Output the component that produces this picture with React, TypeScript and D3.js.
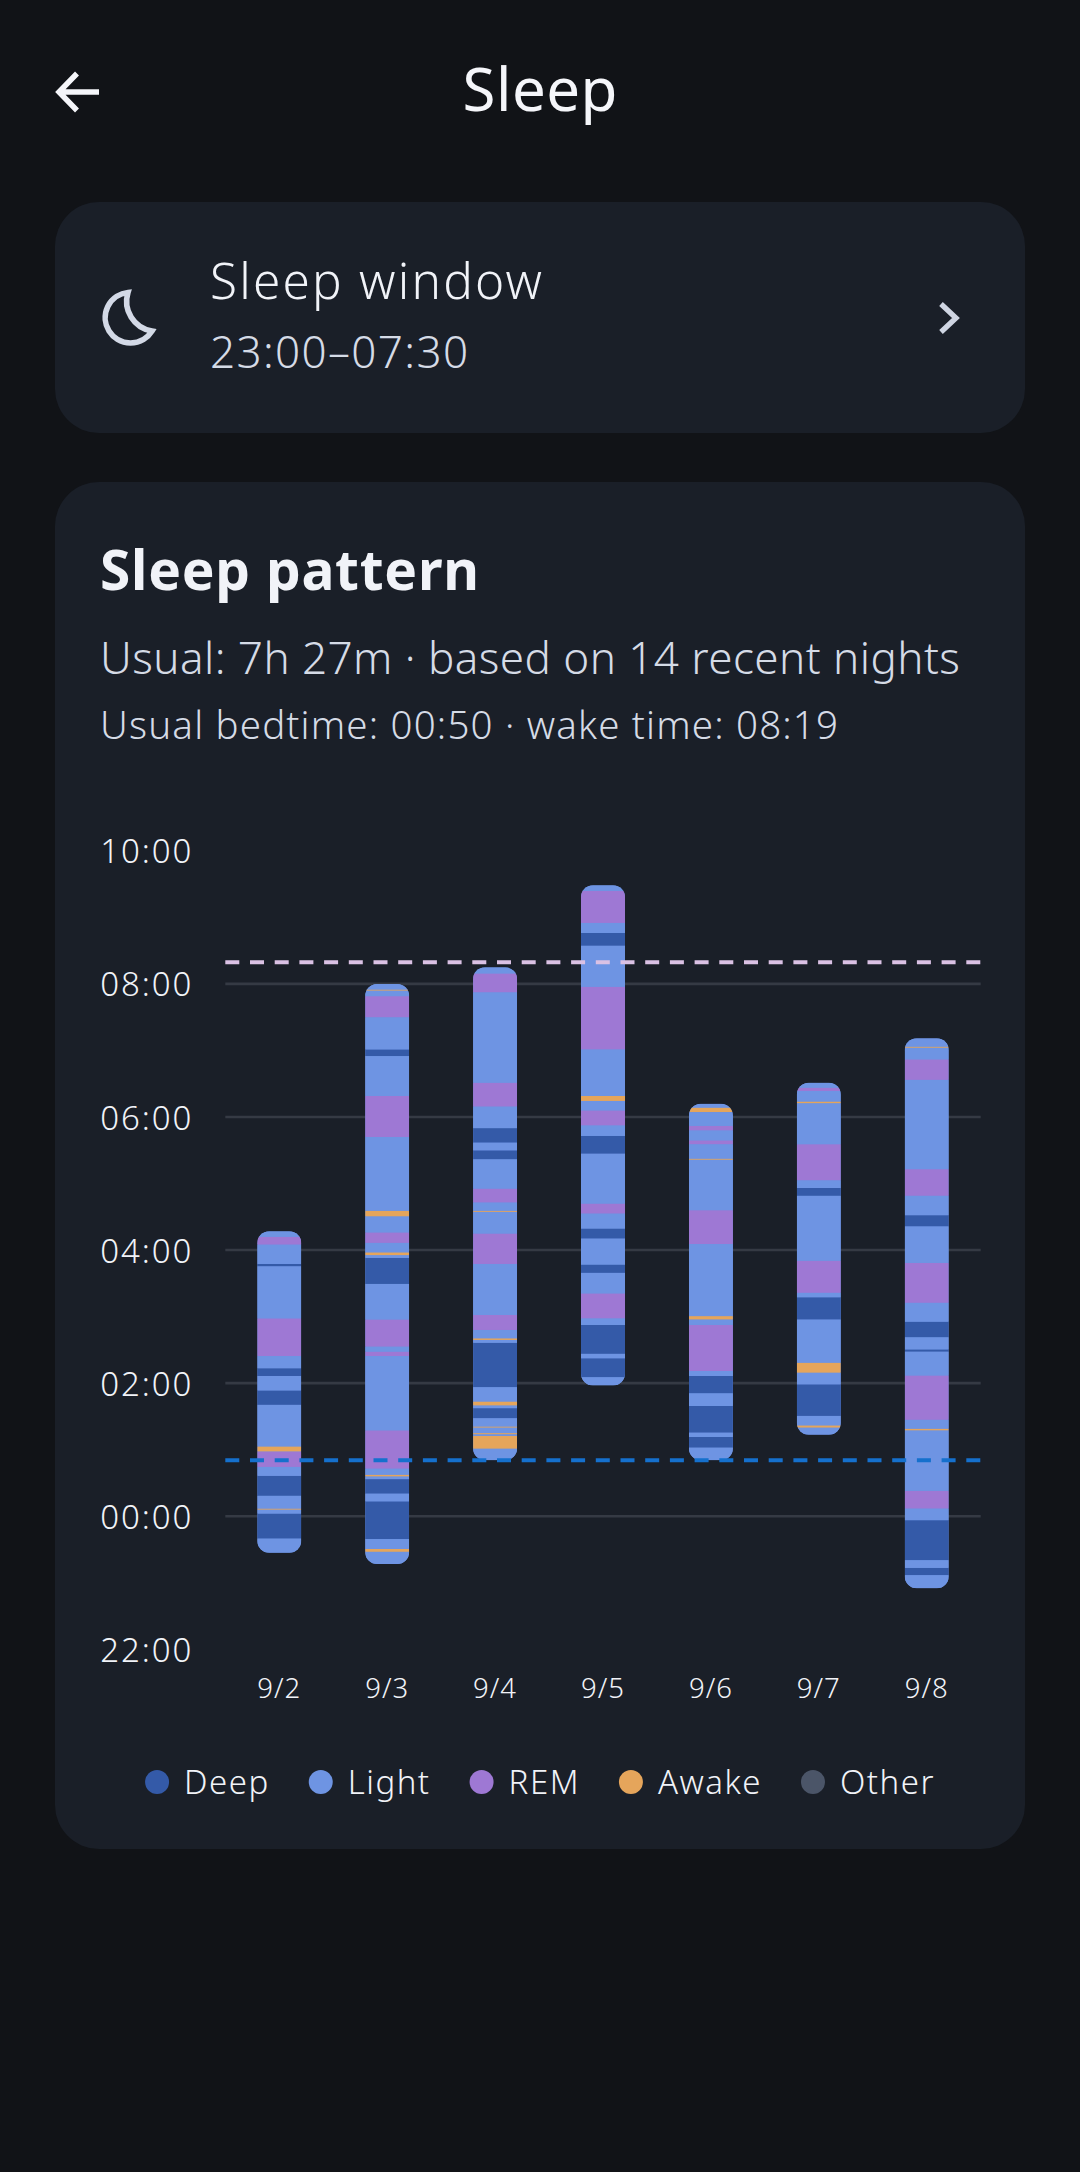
import * as d3 from "d3";
import { useEffect, useRef } from "react";

type Stage = "D" | "L" | "R" | "A" | "O";
type Segment = [Stage, number];

const stageKeys: Stage[] = ["D", "L", "R", "A", "O"];
const stageNames = ["Deep", "Light", "REM", "Awake", "Other"];
const stageColors = ["#345aa8", "#6e94e3", "#9e78d4", "#e5a55b", "#4b5568"];

const dates = ["9/2", "9/3", "9/4", "9/5", "9/6", "9/7", "9/8"];
const yTicks = [-120, 0, 120, 240, 360, 480, 600];

// minutes after midnight: when each night begins, then [stage, minute it ends]
const nightStarts = [-33.5, -43.5, 50, 117.5, 50, 73, -65.5];

const night1: Segment[] = [
  ["L", -20.5], ["D", 2], ["L", 5.5], ["A", 6.5], ["L", 18], ["D", 36], ["L", 44], ["R", 58],
  ["A", 62.5], ["L", 100], ["D", 113], ["L", 126], ["D", 133], ["L", 144], ["R", 178],
  ["L", 225], ["D", 227], ["L", 244.5], ["R", 251.5], ["L", 256.5],
];
const night2: Segment[] = [
  ["L", -32.5], ["A", -30], ["L", -21], ["D", 13], ["L", 20], ["D", 33], ["L", 35.5], ["A", 37],
  ["L", 42.5], ["R", 77], ["L", 144], ["R", 148], ["L", 152.5], ["R", 177], ["L", 209], ["D", 232.5],
  ["L", 235], ["A", 237.5], ["L", 246], ["R", 255.5], ["L", 270], ["A", 275], ["L", 341.5], ["R", 378.5],
  ["L", 414.5], ["D", 420.5], ["L", 449.5], ["R", 468.5], ["L", 473.5], ["A", 474.5], ["L", 479.5],
];
const night3: Segment[] = [
  ["L", 60.5], ["A", 72], ["L", 73.5], ["A", 74.5], ["L", 79.5], ["A", 80.5], ["L", 88], ["D", 97],
  ["L", 99.5], ["A", 103], ["L", 116], ["D", 156], ["L", 158.5], ["A", 160], ["L", 167.5], ["R", 181],
  ["L", 227], ["R", 254.5], ["L", 274], ["A", 275], ["L", 282.5], ["R", 295], ["L", 321.5], ["D", 329.5],
  ["L", 336.5], ["D", 349.5], ["L", 369], ["R", 390.5], ["L", 472], ["R", 489], ["L", 494.5],
];
const night4: Segment[] = [
  ["L", 125], ["D", 142], ["L", 146], ["D", 172], ["L", 178], ["R", 200.5], ["L", 219], ["D", 226.5],
  ["L", 250], ["D", 259], ["L", 272.5], ["R", 281.5], ["L", 326.5], ["D", 342.5], ["L", 352], ["R", 365.5],
  ["L", 374], ["A", 378.5], ["L", 420.5], ["R", 477], ["L", 514], ["D", 525.5], ["L", 534.5], ["R", 563.5],
  ["L", 568.5],
];
const night5: Segment[] = [
  ["L", 61.5], ["D", 71], ["L", 75], ["D", 99], ["L", 110.5], ["D", 126], ["L", 130.5], ["R", 172],
  ["L", 177], ["A", 180], ["L", 245], ["R", 275.5], ["L", 321], ["A", 322], ["L", 335], ["R", 338.5],
  ["L", 347.5], ["R", 351.5], ["L", 364], ["A", 368], ["L", 371.5],
];
const night6: Segment[] = [
  ["L", 79.5], ["A", 81.5], ["L", 90], ["D", 118.5], ["L", 129], ["A", 138], ["L", 177], ["D", 197],
  ["L", 201], ["R", 230], ["L", 288.5], ["D", 295.5], ["L", 302.5], ["R", 335], ["L", 372], ["A", 373.5],
  ["L", 383], ["R", 386], ["L", 390.5],
];
const night7: Segment[] = [
  ["L", -53.5], ["D", -47], ["L", -40], ["D", -4], ["L", 6.5], ["R", 22.5], ["L", 77], ["A", 78.5],
  ["L", 86.5], ["R", 126.5], ["L", 148], ["D", 150], ["L", 161], ["D", 175], ["L", 192], ["R", 228],
  ["L", 261], ["D", 271], ["L", 288.5], ["R", 312.5], ["L", 393], ["R", 411.5], ["L", 422], ["A", 423],
  ["L", 430.5],
];
const nights = [night1, night2, night3, night4, night5, night6, night7];

const usualBedtime = 50; // 00:50
const usualWake = 499; // 08:19

const FONT = "'Noto Sans', sans-serif";

export default function App() {
  const ref = useRef<SVGSVGElement>(null);

  useEffect(() => {
    const svg = d3.select(ref.current!);
    svg.selectAll("*").remove();

    const label = (
      x: number,
      y: number,
      text: string,
      size: number,
      fill: string,
      len?: number,
      weight = 300
    ) => {
      const t = svg
        .append("text")
        .attr("x", x)
        .attr("y", y)
        .attr("font-size", size)
        .attr("font-weight", weight)
        .attr("fill", fill)
        .text(text);
      if (len) t.attr("textLength", len).attr("lengthAdjust", "spacing");
      return t;
    };

    svg.append("rect").attr("width", 1080).attr("height", 2172).attr("fill", "#111317");
    svg.append("rect").attr("x", 55).attr("y", 202).attr("width", 970).attr("height", 231).attr("rx", 44).attr("fill", "#1a1f28");
    svg.append("rect").attr("x", 55).attr("y", 482).attr("width", 970).attr("height", 1367).attr("rx", 44).attr("fill", "#1a1f28");

    // header
    svg.append("path").attr("d", "M99 92H59M77 73.5L59 92L77 110.5").attr("fill", "none").attr("stroke", "#f5f6fa").attr("stroke-width", 5.5);
    label(540, 111, "Sleep", 60, "#f5f6fa", 155, 400).attr("text-anchor", "middle");

    // sleep window card
    svg.append("path").attr("d", "M128 292.5A25.3 25.3 0 1 0 152 331A30 30 0 0 1 128 292.5Z").attr("fill", "none").attr("stroke", "#d3d9e6").attr("stroke-width", 5.6).attr("stroke-linejoin", "miter");
    label(210, 299, "Sleep window", 49.5, "#f1f3f8", 332);
    label(210, 368, "23:00–07:30", 44, "#d5dbe6", 258);
    svg.append("path").attr("d", "M941 304L956 318L941 332").attr("fill", "none").attr("stroke", "#cfd5e2").attr("stroke-width", 5.3);

    // pattern card text
    label(100, 590, "Sleep pattern", 55, "#f1f3f8", 379, 700);
    label(100, 674, "Usual: 7h 27m · based on 14 recent nights", 44, "#d5dbe6", 860);
    label(100, 739, "Usual bedtime: 00:50 · wake time: 08:19", 38.5, "#d5dbe6", 738);

    const x = d3.scaleBand<string>().domain(dates).range([225.3, 980.7]);
    const y = d3.scaleLinear().domain([-120, 600]).range([1648.8, 850.3]);
    const barW = 44;

    // y axis, its ticks double as gridlines
    const yAxis = svg
      .append("g")
      .attr("transform", "translate(225.3,0)")
      .call(
        d3
          .axisLeft(y)
          .tickValues(yTicks)
          .tickSize(-755.4)
          .tickPadding(34)
          .tickFormat((m) => {
            const h = ((+m / 60) + 24) % 24;
            return `${d3.format("02")(h)}:00`;
          })
      );
    yAxis.select(".domain").remove();
    yAxis.selectAll<SVGLineElement, number>(".tick line")
      .attr("stroke", "#353a44")
      .attr("stroke-width", 2.6)
      .attr("display", (d) => (d === -120 || d === 600 ? "none" : null));
    yAxis.selectAll(".tick text")
      .attr("font-family", FONT)
      .attr("font-size", 33)
      .attr("font-weight", 300)
      .attr("dy", "0.38em")
      .attr("textLength", 91)
      .attr("fill", "#f1f3f8");

    // bars
    const defs = svg.append("defs");
    svg
      .selectAll("g.night")
      .data(nights)
      .join("g")
      .attr("class", "night")
      .each(function (night, i) {
        const left = x(dates[i])! + x.bandwidth() / 2 - barW / 2;
        const start = nightStarts[i];
        const end = night[night.length - 1][1];
        defs
          .append("clipPath")
          .attr("id", `night-${i}`)
          .append("rect")
          .attr("x", left)
          .attr("y", y(end))
          .attr("width", barW)
          .attr("height", y(start) - y(end))
          .attr("rx", 12);
        const g = d3.select(this).attr("clip-path", `url(#night-${i})`);
        g.append("rect")
          .attr("x", left)
          .attr("y", y(end))
          .attr("width", barW)
          .attr("height", y(start) - y(end))
          .attr("fill", stageColors[1]);
        g.selectAll("rect.seg")
          .data(night)
          .join("rect")
          .attr("class", "seg")
          .attr("x", left)
          .attr("y", (d) => y(d[1]))
          .attr("width", barW)
          .attr("height", (d, j) => y(j === 0 ? start : night[j - 1][1]) - y(d[1]))
          .attr("fill", (d) => stageColors[stageKeys.indexOf(d[0])]);
      });

    // usual wake and bedtime
    const usual = [
      { v: usualWake, c: "#dac1e4" },
      { v: usualBedtime, c: "#1570cd" },
    ];
    svg
      .selectAll("line.usual")
      .data(usual)
      .join("line")
      .attr("class", "usual")
      .attr("x1", 225.3)
      .attr("x2", 980.7)
      .attr("y1", (d) => y(d.v))
      .attr("y2", (d) => y(d.v))
      .attr("stroke", (d) => d.c)
      .attr("stroke-width", 4)
      .attr("stroke-dasharray", "14 10.7");

    // x axis
    const xAxis = svg
      .append("g")
      .attr("transform", "translate(0,1698)")
      .call(d3.axisBottom(x).tickSize(0));
    xAxis.select(".domain").remove();
    xAxis.selectAll(".tick text")
      .attr("y", 0)
      .attr("dy", 0)
      .attr("font-family", FONT)
      .attr("font-size", 27.5)
      .attr("font-weight", 300)
      .attr("letter-spacing", 1)
      .attr("fill", "#f1f3f8");

    // legend, laid out from the measured label widths
    const legend = svg.append("g");
    let cursor = 0;
    stageNames.forEach((name, i) => {
      legend.append("circle").attr("cx", cursor + 12).attr("cy", 1782).attr("r", 12).attr("fill", stageColors[i]);
      const t = legend
        .append("text")
        .attr("x", cursor + 39)
        .attr("y", 1794)
        .attr("font-size", 33)
        .attr("font-weight", 300)
        .attr("letter-spacing", 1.5)
        .attr("fill", "#f1f3f8")
        .text(name);
      cursor += 39 + (t.node() as SVGTextElement).getComputedTextLength() + 39;
    });
    legend.attr("transform", `translate(${540 - (cursor - 39) / 2},0)`);
  }, []);

  return (
    <svg
      ref={ref}
      width={1080}
      height={2172}
      viewBox="0 0 1080 2172"
      fontFamily={FONT}
      style={{ position: "absolute", left: 0, top: 0, display: "block" }}
    />
  );
}
